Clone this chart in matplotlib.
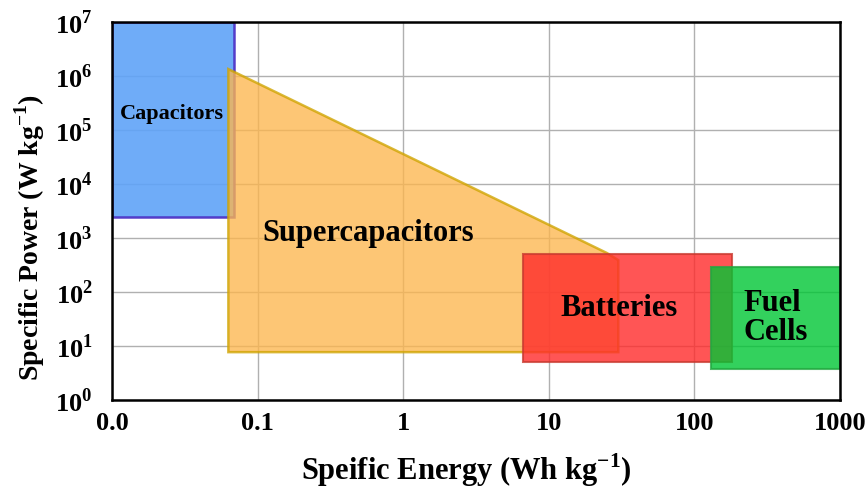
import numpy as np
import matplotlib.pyplot as plt

plt.rcParams['font.family'] = ['Liberation Serif', 'DejaVu Serif']
plt.rcParams['font.weight'] = 'bold'
plt.rcParams['mathtext.fontset'] = 'custom'
plt.rcParams['mathtext.rm'] = 'Liberation Serif:bold'
plt.rcParams['mathtext.bf'] = 'Liberation Serif:bold'

# region outlines (energy Wh/kg, power W/kg)
cap_e = [0.01, 0.069, 0.069, 0.01]
cap_p = [1e7, 1e7, 2450, 2450]

sc_e = [0.063, 25, 30, 30, 0.063]
sc_p = [1.35e6, 530, 390, 7.7, 7.7]

bat_e = [6.6, 182, 182, 6.6]
bat_p = [506, 506, 5.06, 5.06]

fc_e = [129, 1000, 1000, 129]
fc_p = [290, 290, 3.75, 3.75]

xticks = [0.01, 0.1, 1, 10, 100, 1000]
xlabels = ['0.0', '0.1', '1', '10', '100', '1000']
yticks = [1e0, 1e1, 1e2, 1e3, 1e4, 1e5, 1e6, 1e7]
ylabels = ['$10^{%d}$' % i for i in range(8)]

fig = plt.figure(figsize=(8.66, 4.92), dpi=100)
ax = fig.add_axes([0.1293, 0.187, 0.8407, 0.768])
ax.set_xscale('log')
ax.set_yscale('log')
ax.set_xlim(0.01, 1000)
ax.set_ylim(1, 1e7)

ax.grid(True, color='#b0b0b0', linewidth=1.0)
ax.set_axisbelow(True)

ax.fill(cap_e, cap_p, facecolor='#5fa3f8', alpha=0.9, edgecolor='#4a2cc4', linewidth=1.8, zorder=2)
ax.fill(sc_e, sc_p, facecolor='#fdb64e', alpha=0.78, edgecolor='#cfa400', linewidth=1.8, zorder=3)
ax.fill(bat_e, bat_p, facecolor='#ff2b2b', alpha=0.8, edgecolor='#c83a30', linewidth=1.5, zorder=4)
ax.fill(fc_e, fc_p, facecolor='#00c634', alpha=0.8, edgecolor='#22a840', linewidth=1.5, zorder=5)

ax.text(0.0258, 1.98e5, 'Capacitors', fontsize=16, fontweight='bold', ha='center', va='center', zorder=6)
ax.text(0.575, 1240, 'Supercapacitors', fontsize=22, fontweight='bold', ha='center', va='center', zorder=6)
ax.text(30.6, 50, 'Batteries', fontsize=22, fontweight='bold', ha='center', va='center', zorder=6)
ax.text(217, 33, 'Fuel\nCells', fontsize=22, fontweight='bold', ha='left', va='center', linespacing=1.0, zorder=6)

ax.set_xticks(xticks)
ax.set_xticklabels(xlabels)
ax.set_yticks(yticks)
ax.set_yticklabels(ylabels)
ax.minorticks_off()
ax.tick_params(axis='x', length=0, labelsize=19, pad=9)
ax.tick_params(axis='y', length=0, labelsize=19, pad=14)
for lab in ax.get_xticklabels() + ax.get_yticklabels():
    lab.set_fontweight('bold')

for s in ax.spines.values():
    s.set_linewidth(1.8)
    s.set_zorder(7)

ax.set_xlabel('Speific Energy (Wh kg$^{-1}$)', fontsize=22, fontweight='bold')
ax.set_ylabel('Specific Power (W kg$^{-1}$)', fontsize=20, fontweight='bold')
ax.xaxis.set_label_coords(0.486, -0.135)
ax.yaxis.set_label_coords(-0.113, 0.43)
ax.yaxis.label.set_verticalalignment('center')

fig.savefig('out.png', dpi=100)
